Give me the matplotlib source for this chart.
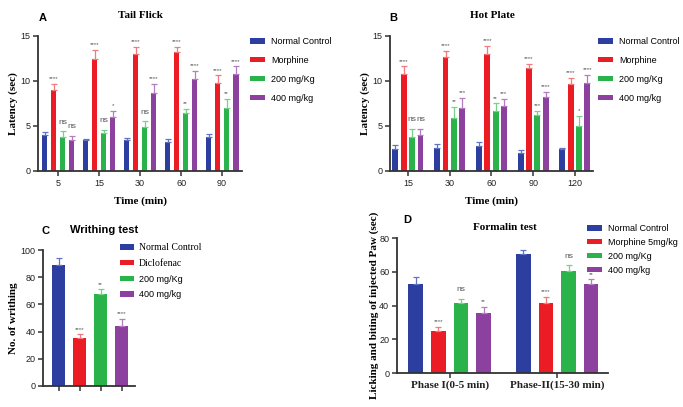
import numpy as np
import matplotlib.pyplot as plt

plt.rcParams['font.family'] = 'Liberation Sans'

## colours of the four groups
bar_colors = ['#2C3E9F', '#EC1C24', '#2AB34A', '#8C419F']
err_colors = ['#6272C4', '#F07A7F', '#79D08C', '#B47DC2']
star_color = '#555555'

## A - tail flick
times_a = ['5', '15', '30', '60', '90']
tf_control = [4.0, 3.4, 3.4, 3.2, 3.8]
tf_control_err = [0.3, 0.2, 0.3, 0.3, 0.3]
tf_morphine = [9.0, 12.4, 13.0, 13.2, 9.8]
tf_morphine_err = [0.7, 1.0, 0.8, 0.6, 0.8]
tf_200 = [3.8, 4.2, 4.9, 6.4, 7.0]
tf_200_err = [0.6, 0.4, 0.6, 0.5, 1.0]
tf_400 = [3.4, 6.0, 8.6, 10.2, 10.8]
tf_400_err = [0.5, 0.7, 1.1, 0.9, 0.8]
tf_sig = [['', '', '', '', ''],
          ['****', '****', '****', '****', '****'],
          ['ns', 'ns', 'ns', '**', '**'],
          ['ns', '*', '****', '****', '****']]

## B - hot plate
times_b = ['15', '30', '60', '90', '120']
hp_control = [2.4, 2.6, 2.8, 2.0, 2.4]
hp_control_err = [0.5, 0.4, 0.4, 0.3, 0.2]
hp_morphine = [10.8, 12.6, 13.0, 11.4, 9.6]
hp_morphine_err = [0.8, 0.7, 0.9, 0.5, 0.7]
hp_200 = [3.8, 5.9, 6.7, 6.2, 5.0]
hp_200_err = [0.9, 1.2, 0.8, 0.5, 1.1]
hp_400 = [4.0, 7.0, 7.2, 8.2, 9.8]
hp_400_err = [0.7, 1.1, 0.8, 0.6, 0.9]
hp_sig = [['', '', '', '', ''],
          ['****', '****', '****', '****', '****'],
          ['ns', '**', '**', '***', '*'],
          ['ns', '***', '***', '****', '****']]

## C - writhing test
wr_labels = ['Normal Control', 'Diclofenac', '200 mg/Kg', '400 mg/kg']
wr_values = [89, 35.5, 67.5, 44]
wr_err = [5, 2.5, 3.5, 5.5]
wr_sig = ['', '****', '**', '****']

## D - formalin test
phases = ['Phase I(0-5 min)', 'Phase-II(15-30 min)']
fm_control = [52.5, 70.5]
fm_control_err = [4.5, 2.5]
fm_morphine = [25, 41.5]
fm_morphine_err = [2.5, 3.5]
fm_200 = [41.5, 60.5]
fm_200_err = [2.5, 3.5]
fm_400 = [35.5, 52.5]
fm_400_err = [3.5, 3.0]
fm_sig = [['', ''], ['****', '****'], ['ns', 'ns'], ['**', '**']]

legend_ab = ['Normal Control', 'Morphine', '200 mg/Kg', '400 mg/kg']
legend_d = ['Normal Control', 'Morphine 5mg/kg', '200 mg/Kg', '400 mg/kg']

serif = 'Liberation Serif'


def style_axes(ax):
    for s in ['top', 'right']:
        ax.spines[s].set_visible(False)
    for s in ['left', 'bottom']:
        ax.spines[s].set_linewidth(1.3)
        ax.spines[s].set_color('#333333')
    ax.tick_params(width=1.1, length=3.5, color='#333333', labelsize=6.5,
                   labelcolor='#222222', pad=2)


def annotate(ax, x, top, text):
    if text == '':
        return
    if text == 'ns':
        ax.annotate(text, (x, top), xytext=(0, 4), textcoords='offset points',
                    ha='center', va='bottom', fontsize=6, color=star_color)
    else:
        ax.annotate(text, (x, top), xytext=(0, 2), textcoords='offset points',
                    ha='center', va='bottom', fontsize=4.5, color=star_color)


def grouped(ax, series, errs, sig, pitch, width):
    n = len(series[0])
    x = np.arange(n)
    handles = []
    for i in range(4):
        xi = x + (i - 1.5) * pitch
        h = ax.bar(xi, series[i], width, color=bar_colors[i])
        ax.errorbar(xi, series[i], yerr=[np.zeros(n), errs[i]], fmt='none',
                    ecolor=err_colors[i], elinewidth=0.9, capsize=2, capthick=0.9)
        for j in range(n):
            annotate(ax, xi[j], series[i][j] + errs[i][j], sig[i][j])
        handles.append(h)
    return handles


fig = plt.figure(figsize=(6.83, 4.07), dpi=100)

leg_kw = dict(loc='upper left', frameon=False, fontsize=6.5, handlelength=1.7,
              handleheight=0.55, handletextpad=0.6, labelspacing=1.1,
              borderpad=0, borderaxespad=0, bbox_transform=fig.transFigure)

##panel A
ax = fig.add_axes([0.0556, 0.58, 0.299, 0.332])
h = grouped(ax, [tf_control, tf_morphine, tf_200, tf_400],
            [tf_control_err, tf_morphine_err, tf_200_err, tf_400_err],
            tf_sig, 0.22, 0.14)
ax.set_xlim(-0.49, 4.49)
ax.set_ylim(0, 15)
ax.set_yticks([0, 5, 10, 15])
ax.set_xticks(range(len(times_a)))
ax.set_xticklabels(times_a)
style_axes(ax)
ax.set_ylabel('Latency (sec)', family=serif, fontweight='bold', fontsize=8, labelpad=2)
ax.set_xlabel('Time (min)', family=serif, fontweight='bold', fontsize=8, labelpad=6)
ax.legend(h, legend_ab, bbox_to_anchor=(250 / 683, 1 - 37 / 407), **leg_kw)
fig.text(140 / 683, 1 - 16 / 407, 'Tail Flick', family=serif, fontweight='bold',
         fontsize=8, ha='center', va='center')
fig.text(43 / 683, 1 - 18 / 407, 'A', fontweight='bold', fontsize=8,
         ha='center', va='center')

##panel B
ax = fig.add_axes([0.571, 0.58, 0.297, 0.332])
h = grouped(ax, [hp_control, hp_morphine, hp_200, hp_400],
            [hp_control_err, hp_morphine_err, hp_200_err, hp_400_err],
            hp_sig, 0.2, 0.14)
ax.set_xlim(-0.43, 4.43)
ax.set_ylim(0, 15)
ax.set_yticks([0, 5, 10, 15])
ax.set_xticks(range(len(times_b)))
ax.set_xticklabels(times_b)
style_axes(ax)
ax.set_ylabel('Latency (sec)', family=serif, fontweight='bold', fontsize=8, labelpad=2)
ax.set_xlabel('Time (min)', family=serif, fontweight='bold', fontsize=8, labelpad=6)
ax.legend(h, legend_ab, bbox_to_anchor=(598 / 683, 1 - 37 / 407), **leg_kw)
fig.text(492 / 683, 1 - 16 / 407, 'Hot Plate', family=serif, fontweight='bold',
         fontsize=8, ha='center', va='center')
fig.text(393 / 683, 1 - 18 / 407, 'B', fontweight='bold', fontsize=8,
         ha='center', va='center')

##panel C
ax = fig.add_axes([0.063, 0.0516, 0.135, 0.334])
xc = np.arange(len(wr_values))
h = []
for i in range(4):
    h.append(ax.bar(xc[i], wr_values[i], 0.64, color=bar_colors[i]))
    ax.errorbar(xc[i], wr_values[i], yerr=[[0], [wr_err[i]]], fmt='none',
                ecolor=err_colors[i], elinewidth=0.9, capsize=2.5, capthick=0.9)
    annotate(ax, xc[i], wr_values[i] + wr_err[i], wr_sig[i])
ax.set_xlim(-0.74, 3.64)
ax.set_ylim(0, 100)
ax.set_yticks(range(0, 101, 20))
ax.set_xticks(xc)
ax.set_xticklabels([])
style_axes(ax)
ax.set_ylabel('No. of writhing', family=serif, fontweight='bold', fontsize=8, labelpad=2)
leg = ax.legend(h, wr_labels, bbox_to_anchor=(120 / 683, 1 - 243 / 407),
                **dict(leg_kw, labelspacing=0.75, handlelength=1.5))
for t in leg.get_texts()[:2]:
    t.set_family(serif)
    t.set_fontsize(7)
fig.text(70 / 683, 1 - 230 / 407, 'Writhing test', fontweight='bold', fontsize=8,
         ha='left', va='center')
fig.text(45 / 683, 1 - 231 / 407, 'C', fontweight='bold', fontsize=8,
         ha='center', va='center')

##panel D
ax = fig.add_axes([0.581, 0.0835, 0.309, 0.3315])
h = grouped(ax, [fm_control, fm_morphine, fm_200, fm_400],
            [fm_control_err, fm_morphine_err, fm_200_err, fm_400_err],
            fm_sig, 0.21, 0.135)
ax.set_xlim(-0.49, 1.47)
ax.set_ylim(0, 80)
ax.set_yticks(range(0, 81, 20))
ax.set_xticks(range(len(phases)))
ax.set_xticklabels(phases, family=serif, fontweight='bold', fontsize=8)
style_axes(ax)
ax.tick_params(axis='x', labelsize=8)
ax.set_ylabel('Licking and biting of injected Paw (sec)', family=serif,
              fontweight='bold', fontsize=8, labelpad=0)
ax.legend(h, legend_d, bbox_to_anchor=(587 / 683, 1 - 224 / 407),
          **dict(leg_kw, labelspacing=0.55))
fig.text(505 / 683, 1 - 228 / 407, 'Formalin test', family=serif, fontweight='bold',
         fontsize=8, ha='center', va='center')
fig.text(407 / 683, 1 - 220 / 407, 'D', fontweight='bold', fontsize=8,
         ha='center', va='center')

fig.savefig('out.png', dpi=100)
